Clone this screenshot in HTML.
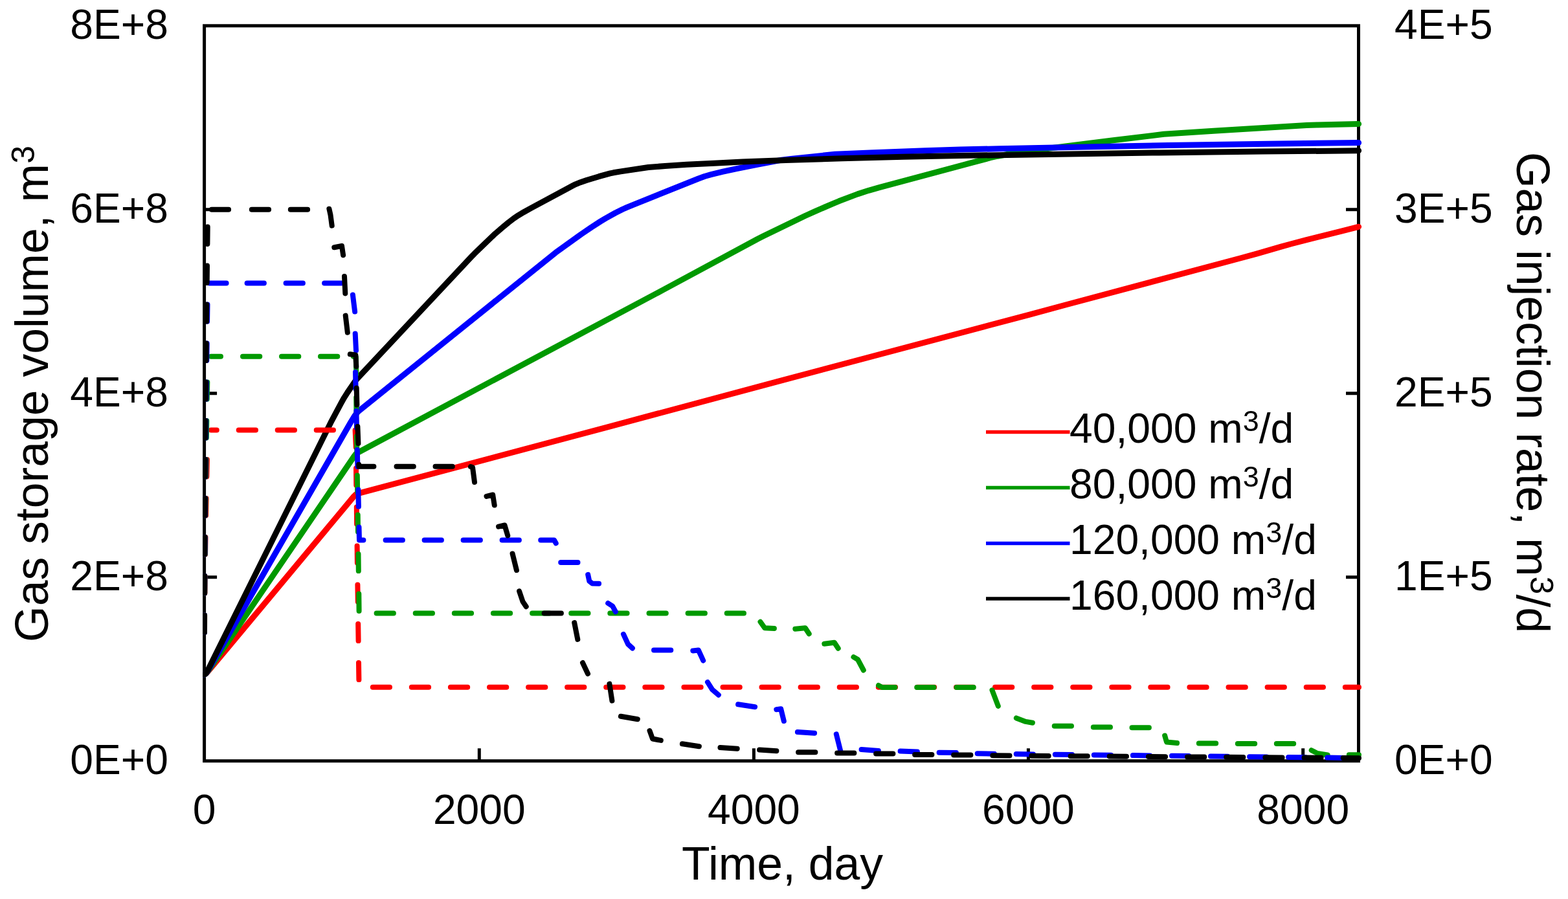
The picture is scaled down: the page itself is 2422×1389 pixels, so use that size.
<!DOCTYPE html>
<html lang="en">
<head>
<meta charset="utf-8">
<title>Gas storage volume and gas injection rate vs. time</title>
<style>
html,body{margin:0;padding:0;background:#fff;}
body{width:2422px;height:1389px;overflow:hidden;}
svg{display:block;}
</style>
</head>
<body>
<svg xmlns="http://www.w3.org/2000/svg" width="2422" height="1389" viewBox="0 0 2422 1389">
<rect width="2422" height="1389" fill="#ffffff"/>
<g id="axes" stroke="#000" stroke-width="5" fill="none" stroke-linecap="butt">
<rect x="315.6" y="39.8" width="1782.9" height="1135.9"/>
<path d="M315.6,891.7 h19.5 M315.6,607.8 h19.5 M315.6,323.8 h19.5 M2098.5,891.7 h-19.5 M2098.5,607.8 h-19.5 M2098.5,323.8 h-19.5 M740.3,1175.7 v-19.5 M1164.4,1175.7 v-19.5 M1588.4,1175.7 v-19.5 M2012.7,1175.7 v-19.5"/>
</g>
<clipPath id="plotclip"><rect x="313.1" y="0" width="2422" height="1389"/></clipPath>
<g id="solid" clip-path="url(#plotclip)">
<path d="M315.6,1042.3 L318.4,1040.5 L321.1,1037.7 L546.1,767.5 L548.9,764.6 L550.1,763.7 L551.6,762.9 L940.4,659.3 L1200.6,589.6 L1590.3,486.1 L1646.1,471 L1915.6,399 L1941.8,391.8 L1978.8,381.1 L1995.6,376.5 L2017.1,370.9 L2073.1,356.9 L2098.6,350.3" stroke="#ff0000" stroke-width="9" stroke-linecap="round" stroke-linejoin="round" fill="none"/>
<path d="M315.6,1042.3 L318.1,1040.5 L320.9,1037.3 L547.4,704.4 L549.1,702.1 L550.9,700.4 L557.9,696.5 L797.4,568.7 L1023.4,448.4 L1169.8,369.5 L1178.1,365.3 L1243.6,333.5 L1258.3,326.8 L1287.3,314.3 L1295.8,310.8 L1324.6,299.9 L1341.8,294.3 L1358.3,289.6 L1529.8,243.7 L1541.1,241.2 L1558.6,238 L1584.1,234.1 L1626.1,228.5 L1719.6,216.7 L1797.6,207.3 L1874.6,202.3 L2018.3,193.5 L2035.1,192.9 L2098.6,191.4" stroke="#009900" stroke-width="9" stroke-linecap="round" stroke-linejoin="round" fill="none"/>
<path d="M315.6,1042.3 L317.1,1041.3 L318.4,1040.1 L320.9,1036.6 L542.1,651.8 L547.9,642.4 L551.4,637.7 L553.6,635.5 L858.1,390.4 L897.4,362.1 L913.4,351.2 L927.1,342.4 L935.4,337.4 L950.4,329 L961.4,323.5 L968.4,320.4 L980.1,315.6 L1078.8,276 L1088.3,272.5 L1098.3,269.7 L1116.8,265.2 L1136.8,260.8 L1169.3,254.4 L1207.3,247.1 L1221.6,245.4 L1289.8,238.3 L1296.3,237.9 L1343.8,236 L1429.1,232.8 L1483.1,231.1 L1543.6,229.7 L1702.1,226.4 L1804.3,224.6 L1958.6,222.2 L2098.6,220.5" stroke="#0000ff" stroke-width="9" stroke-linecap="round" stroke-linejoin="round" fill="none"/>
<path d="M315.6,1042.3 L317.1,1041.3 L318.4,1039.9 L319.6,1038.1 L321.1,1035.4 L510.9,652.9 L526.9,622.9 L531.4,614.8 L536.6,606.6 L549.1,588.2 L552.4,584.3 L728.9,395.9 L732.9,391.8 L763.1,362.7 L779.1,348.9 L785.4,343.8 L793.9,337.3 L800.9,332.6 L809.1,327.7 L819.6,321.9 L876.6,291.2 L884.4,287.1 L889.4,284.6 L896.6,281.7 L905.9,278.5 L925.1,272.7 L942.4,267.9 L947.6,266.8 L958.9,264.9 L1001.4,258.5 L1027.1,256.5 L1060.6,254.3 L1102.6,252.2 L1146.8,250.1 L1213.8,247.5 L1300.6,244.8 L1395.3,242.3 L1483.1,240.5 L1790.6,235.9 L1950.3,234.1 L2098.6,232.8" stroke="#000000" stroke-width="9" stroke-linecap="round" stroke-linejoin="round" fill="none"/>
</g>
<g id="dashed" clip-path="url(#plotclip)">
<g stroke="#ff0000" stroke-width="8" stroke-linecap="round" stroke-linejoin="round" fill="none">
<path d="M319.9,710.1 L319.3,736.4 M318.6,770.1 L318.1,796.4 M317.5,830.1 L317.1,856.4 M316.6,890.1 L316.4,916.4 M316.1,950.6 L316,976.9 M326,664.5 L334.8,664.5 M368.7,664.5 L395,664.5 M428.7,664.5 L455,664.5 M488.7,664.5 L515,664.5 M548.6,664.8 L549.8,691 M550,723.4 L550.3,749.6 M550.8,783.4 L551.1,809.6 M551.6,843.4 L551.9,869.6 M552.4,903.4 L552.8,929.6 M553.2,963.9 L553.6,990.1 M554,1023.9 L554.4,1050.1 M575.8,1061.8 L602,1061.8 M635.8,1061.8 L662.1,1061.8 M695.9,1061.8 L722.2,1061.8 M756,1061.8 L782.3,1061.8 M816.1,1061.8 L842.4,1061.8 M876.1,1061.8 L902.4,1061.8 M936.2,1061.8 L962.5,1061.8 M996.3,1061.8 L1022.6,1061.8 M1056.4,1061.8 L1082.7,1061.8 M1116.5,1061.8 L1142.8,1061.8 M1176.5,1061.8 L1202.8,1061.8 M1236.6,1061.8 L1262.9,1061.8 M1296.7,1061.8 L1323,1061.8 M1356.8,1061.8 L1383.1,1061.8 M1416.9,1061.8 L1443.2,1061.8 M1477,1061.8 L1503.2,1061.8 M1537,1061.8 L1563.3,1061.8 M1597.1,1061.8 L1623.4,1061.8 M1657.2,1061.8 L1683.5,1061.8 M1717.3,1061.8 L1743.6,1061.8 M1777.3,1061.8 L1803.6,1061.8 M1837.4,1061.8 L1863.7,1061.8 M1897.5,1061.8 L1923.8,1061.8 M1957.6,1061.8 L1983.9,1061.8 M2017.7,1061.8 L2044,1061.8 M2077.8,1061.8 L2099,1061.8"/>
</g>
<g stroke="#009900" stroke-width="8" stroke-linecap="round" stroke-linejoin="round" fill="none">
<path d="M320.3,590.4 L319.8,616.6 M319.3,650.1 L318.9,676.4 M318.4,710.1 L318,736.4 M317.6,770.1 L317.3,796.4 M316.9,830.1 L316.7,856.4 M316.4,890.1 L316.2,916.4 M316.1,950.6 L316,976.9 M326,550.8 L341,550.8 M375,550.8 L401.3,550.8 M435,550.8 L461.3,550.8 M495,550.8 L521.3,550.8 M546,550.8 L549.8,551.5 L550.3,578 M550.2,613.9 L550.5,640.1 M551,673.9 L551.4,700.1 M551.8,734.4 L552.2,760.6 M552.7,795.4 L553,821.6 M553.5,855.9 L553.8,882.1 M554.3,917.6 L554.6,943.9 M581.6,947.6 L607.9,947.6 M641.7,947.6 L668,947.6 M701.8,947.6 L728.1,947.6 M761.9,947.6 L788.2,947.6 M822.1,947.6 L848.4,947.6 M882.2,947.6 L908.5,947.6 M942.3,947.6 L968.6,947.6 M1002.5,947.6 L1028.8,947.6 M1062.6,947.6 L1088.9,947.6 M1122.7,947.6 L1149,947.6 M1174.5,960.8 L1181.2,970.2 L1195.9,971 M1228.3,971.7 L1243.8,970.2 L1249.7,979.2 M1273.3,994.7 L1288.8,992.8 L1294.7,1001.7 M1318.5,1015.1 L1325,1019 L1333.8,1035.5 M1357,1059 L1362.5,1062 L1382.5,1062 M1416.2,1062 L1442.5,1062 M1477.5,1062 L1503.8,1062 M1532.5,1066.3 L1541.8,1090.9 M1569.8,1109.4 L1584.2,1114.9 L1594.9,1116.7 M1628.7,1121.7 L1655,1121.7 M1688.8,1123.4 L1715,1123.4 M1748.5,1124.2 L1774.9,1124.2 M1799.2,1136.7 L1802,1146.5 L1818.1,1148.1 M1851.8,1148.5 L1878.2,1148.5 M1911.8,1149 L1938.2,1149 M1971.8,1149 L1998.2,1149 M2025.7,1159.2 L2035,1164 L2050.6,1166.5 M2083.8,1166.3 L2099,1166.3"/>
</g>
<g stroke="#0000ff" stroke-width="8" stroke-linecap="round" stroke-linejoin="round" fill="none">
<path d="M320.5,470.4 L320.1,496.6 M319.7,530.6 L319.3,556.9 M318.9,590.4 L318.6,616.6 M318.2,650.1 L318,676.4 M317.6,710.1 L317.4,736.4 M317.1,770.1 L316.9,796.4 M316.6,830.1 L316.4,856.4 M316.3,890.1 L316.1,916.4 M316,950.6 L316,976.9 M323.4,437.4 L349.6,437.4 M381.6,437.4 L407.9,437.4 M441.6,437.4 L467.9,437.4 M501.1,437.4 L527.4,437.4 M544.9,455.4 L548.1,481.6 M548.7,515.4 L550,541.6 M549,574.9 L549.6,601.1 M550.4,634.9 L551,661.1 M551.8,694.9 L552.4,721.1 M553.3,756.4 L553.9,782.6 M554.5,814.6 L555,834.5 L561.4,834.5 M595.6,834.5 L621.9,834.5 M655.6,834.5 L681.9,834.5 M715.6,834.5 L741.9,834.5 M775.6,834.5 L801.9,834.5 M835.2,834.5 L856,834.5 L858.7,839.3 M866.2,869 L892.5,869 M908.2,887.9 L910.3,897.8 L914.8,901.5 L925.1,901.7 M939.2,932 L946.2,936.5 L950.8,945.2 M963,979.8 L970,995.2 L976.9,1001.5 M1010,1004.5 L1036.3,1004.5 M1070.3,1005.4 L1078.8,1004.5 L1086.2,1020.6 M1093,1054 L1100,1065.2 L1109.9,1073.7 M1140.1,1088.3 L1166.1,1092.2 M1199.3,1096.2 L1206.2,1095.2 L1210.8,1114 M1231.9,1131 L1258.1,1132.8 M1291.8,1134.4 L1298.2,1159.9 M1330.6,1157.9 L1356.9,1160.1 M1390.6,1160.5 L1416.9,1161.5 M1450.6,1162.7 L1476.9,1163 M1509.7,1164.3 L1535.9,1164.7 M1569.7,1165 L1596,1165.4 M1629.8,1165.7 L1656.1,1166 M1689.8,1166.4 L1716.1,1166.7 M1749.9,1167.1 L1776.2,1167.4 M1810,1167.8 L1836.2,1168.1 M1870,1168.5 L1896.3,1168.8 M1930.1,1169.2 L1956.4,1169.5 M1990.1,1169.9 L2016.4,1170.2 M2050.2,1170.6 L2076.5,1170.9"/>
</g>
<g stroke="#000000" stroke-width="8" stroke-linecap="round" stroke-linejoin="round" fill="none">
<path d="M320.7,350.6 L320.4,376.9 M320,410.6 L319.7,436.9 M319.3,470.4 L319.1,496.6 M318.7,530.6 L318.5,556.9 M318.2,590.4 L317.9,616.6 M317.6,650.1 L317.4,676.4 M317.2,710.1 L317,736.4 M316.8,770.1 L316.6,796.4 M316.5,830.1 L316.3,856.4 M316.2,890.1 L316.1,916.4 M316,950.6 L316,976.9 M326.9,323.8 L353.1,323.8 M388.8,323.8 L415.1,323.8 M448.8,323.8 L475.1,323.8 M508.4,322.7 L510.5,332 L512.7,348.6 M516.3,382.2 L528,380 L530.1,394.2 M532,427.1 L533.3,453.4 M533.7,487.6 L536.8,513.7 M540.8,547.3 L549.3,548.5 L550.3,566.2 M550.7,599.4 L551.4,625.6 M552.4,658.9 L553.4,685.1 M554.2,717.7 L554.3,720.8 L577.4,720.8 M612.5,720.8 L638.8,720.8 M672.5,720.8 L698.8,720.8 M727,721 L730,722 L733,745 M751.5,766.9 L761.2,764.5 L763.7,780.5 M770.1,813.6 L779.5,811.5 L784.2,827.4 M791.6,855.5 L797.9,881 M802.1,913.4 L807.5,929.5 L812.7,937.2 M840.6,947.5 L866.9,947.5 M887.2,962.1 L892.3,987.9 M900,1024 L908,1041 M941.4,1056.6 L945.4,1082.6 M958.9,1106.8 L984.8,1111.2 M1003.5,1129 L1008,1141.5 L1020.8,1143.9 M1053.9,1149.3 L1079.9,1153.2 M1112.5,1154.9 L1138.7,1156.8 M1173.1,1158.4 L1199.4,1160.3 M1233.1,1162.2 L1259.4,1162.2 M1293.1,1163.5 L1319.4,1163.5 M1353.1,1164.5 L1379.4,1164.5 M1413.1,1166 L1439.4,1166 M1473.1,1166.5 L1499.4,1166.5 M1533.3,1167.3 L1559.5,1167.5 M1593.4,1167.7 L1619.7,1167.9 M1653.6,1168.2 L1679.8,1168.3 M1713.7,1168.6 L1740,1168.7 M1773.9,1169 L1800.1,1169.2 M1834,1169.4 L1860.3,1169.6 M1894.2,1169.8 L1920.4,1170 M1954.3,1170.2 L1980.6,1170.4 M2014.5,1170.6 L2040.7,1170.8 M2074.7,1171 L2099,1171.2"/>
</g>
</g>
<g id="labels" font-family="'Liberation Sans', Arial, Helvetica, sans-serif" fill="#000" font-size="64.2">
<text x="260" y="1195.7" text-anchor="end">0E+0</text>
<text x="260" y="911.7" text-anchor="end">2E+8</text>
<text x="260" y="627.8" text-anchor="end">4E+8</text>
<text x="260" y="343.8" text-anchor="end">6E+8</text>
<text x="260" y="59.8" text-anchor="end">8E+8</text>
<text x="2154" y="1195.7">0E+0</text>
<text x="2154" y="911.7">1E+5</text>
<text x="2154" y="627.8">2E+5</text>
<text x="2154" y="343.8">3E+5</text>
<text x="2154" y="59.8">4E+5</text>
<text x="315.6" y="1272.5" text-anchor="middle">0</text>
<text x="740.3" y="1272.5" text-anchor="middle">2000</text>
<text x="1164.4" y="1272.5" text-anchor="middle">4000</text>
<text x="1588.4" y="1272.5" text-anchor="middle">6000</text>
<text x="2012.7" y="1272.5" text-anchor="middle">8000</text>
</g>
<g id="titles" font-family="'Liberation Sans', Arial, Helvetica, sans-serif" fill="#000" font-size="71.5">
<text x="1208.5" y="1359.3" text-anchor="middle">Time, day</text>
<text transform="translate(73.6,608.5) rotate(-90)" text-anchor="middle">Gas storage volume, m<tspan font-size="50" dy="-21">3</tspan></text>
<text transform="translate(2343,606.5) rotate(90)" text-anchor="middle">Gas injection rate, m<tspan font-size="50" dy="-21">3</tspan><tspan dy="21">/d</tspan></text>
</g>
<g id="legend" font-family="'Liberation Sans', Arial, Helvetica, sans-serif" fill="#000" font-size="64.2">
<line x1="1523" x2="1652.5" y1="667.5" y2="667.5" stroke="#ff0000" stroke-width="5.5"/>
<text x="1652" y="684">40,000 m<tspan font-size="45" dy="-18">3</tspan><tspan dy="18">/d</tspan></text>
<line x1="1523" x2="1652.5" y1="753.5" y2="753.5" stroke="#009900" stroke-width="5.5"/>
<text x="1652" y="770">80,000 m<tspan font-size="45" dy="-18">3</tspan><tspan dy="18">/d</tspan></text>
<line x1="1523" x2="1652.5" y1="839.5" y2="839.5" stroke="#0000ff" stroke-width="5.5"/>
<text x="1652" y="856">120,000 m<tspan font-size="45" dy="-18">3</tspan><tspan dy="18">/d</tspan></text>
<line x1="1523" x2="1652.5" y1="925" y2="925" stroke="#000000" stroke-width="5.5"/>
<text x="1652" y="941.5">160,000 m<tspan font-size="45" dy="-18">3</tspan><tspan dy="18">/d</tspan></text>
</g>
</svg>
</body>
</html>
